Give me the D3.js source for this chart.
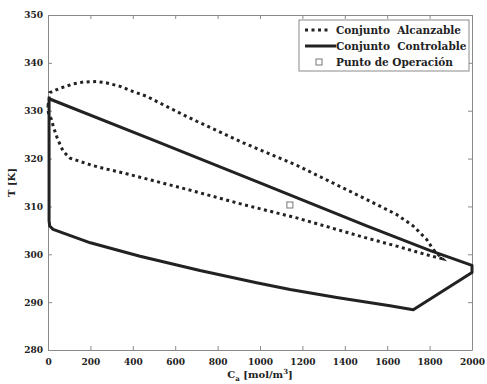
<!DOCTYPE html>
<html>
<head>
<meta charset="utf-8">
<script src="https://cdn.jsdelivr.net/npm/d3@7"></script>
<style>
	body { margin: 0; background: #fff; }
	text { font-family: "DejaVu Serif", serif; font-weight: bold; fill: #222; }
</style>
</head>
<body>
<div id="chart"></div>
<script>
// conjunto alcanzable (dotted, closed)
var alcanzableC = [0, 9, 57, 119, 167, 230, 277, 340, 402, 466, 528, 591, 654, 701, 921, 1173, 1330, 1487, 1645, 1723, 1786, 1817, 1860,
	1802, 1645, 1486, 1330, 1173, 920, 670, 591, 513, 434, 355, 277, 214, 151, 104, 72, 57, 41, 25, 17, 2, 0];
var alcanzableT = [331, 333.8, 334.7, 335.6, 336.0, 336.1, 335.8, 335.1, 334.0, 333.0, 331.6, 330.2, 328.8, 327.8, 323.3, 318.6, 315.2, 311.8, 308.3, 305.9, 303.1, 301.0, 299.1,
	299.7, 301.7, 303.6, 305.6, 307.6, 310.4, 313.4, 314.3, 315.2, 316.1, 317.0, 317.8, 318.5, 319.4, 320.1, 321.5, 322.9, 324.6, 326.7, 328.1, 329.5, 331];

// conjunto controlable (solid, closed)
var controlableC = [5, 500, 1000, 1500, 1800, 2000, 2000, 1723, 1613, 1362, 1142, 984, 717, 434, 200, 24, 8, 5, 5];
var controlableT = [332.5, 323.8, 314.9, 306.0, 300.8, 297.7, 296.2, 288.4, 289.25, 290.95, 292.65, 294.05, 296.6, 299.6, 302.4, 305.2, 305.9, 307, 332.5];

// punto de operacion
var operacionC = [1141];
var operacionT = [310.3];

var xTicks = [0, 200, 400, 600, 800, 1000, 1200, 1400, 1600, 1800, 2000];
var yTicks = [280, 290, 300, 310, 320, 330, 340, 350];
var legendLabels = ["Conjunto  Alcanzable", "Conjunto  Controlable", "Punto de Operación"];

var width = 487, height = 384,
	margin = {top: 15, right: 15, bottom: 34, left: 48},
	frameColor = "#8a8a8a",
	lineColor = "#222";

var svg = d3.select("#chart").append("svg")
	.attr("width", width)
	.attr("height", height);

var x = d3.scaleLinear().domain([0, 2000]).range([margin.left, width - margin.right]);
var y = d3.scaleLinear().domain([280, 350]).range([height - margin.bottom, margin.top]);

// frame with inward ticks on all four sides
function frameAxis(axis, transform) {
	var g = svg.append("g").attr("transform", transform).call(axis);
	g.select(".domain").attr("stroke", frameColor);
	g.selectAll(".tick line").attr("stroke", frameColor);
	g.selectAll(".tick text")
		.attr("font-size", 9)
		.attr("fill", "#222");
	return g;
}

var xb = frameAxis(d3.axisBottom(x).tickValues(xTicks).tickFormat(d3.format("d"))
	.tickSize(-4).tickPadding(6).tickSizeOuter(0),
	"translate(0," + y(280) + ")");
xb.selectAll(".tick text").attr("dy", "0.95em");
frameAxis(d3.axisTop(x).tickValues(xTicks).tickSize(-4).tickFormat("").tickSizeOuter(0),
	"translate(0," + y(350) + ")");
frameAxis(d3.axisLeft(y).tickValues(yTicks).tickFormat(d3.format("d"))
	.tickSize(-4).tickPadding(5).tickSizeOuter(0),
	"translate(" + x(0) + ",0)");
frameAxis(d3.axisRight(y).tickValues(yTicks).tickSize(-4).tickFormat("").tickSizeOuter(0),
	"translate(" + x(2000) + ",0)");

var line = d3.line()
	.x(function(d) { return x(d[0]); })
	.y(function(d) { return y(d[1]); });

svg.append("path")
	.datum(d3.zip(controlableC, controlableT))
	.attr("d", line)
	.attr("fill", "none")
	.attr("stroke", lineColor)
	.attr("stroke-width", 3)
	.attr("stroke-linejoin", "round");

svg.append("path")
	.datum(d3.zip(alcanzableC, alcanzableT))
	.attr("d", line)
	.attr("fill", "none")
	.attr("stroke", lineColor)
	.attr("stroke-width", 3)
	.attr("stroke-dasharray", "3,3.5");

svg.selectAll("rect.op")
	.data(d3.zip(operacionC, operacionT))
	.enter().append("rect")
	.attr("class", "op")
	.attr("x", function(d) { return x(d[0]) - 3; })
	.attr("y", function(d) { return y(d[1]) - 3; })
	.attr("width", 6)
	.attr("height", 6)
	.attr("fill", "#fff")
	.attr("stroke", "#777")
	.attr("stroke-width", 1);

// axis labels
svg.append("text")
	.attr("transform", "translate(15," + ((y(280) + y(350)) / 2) + ") rotate(-90)")
	.attr("text-anchor", "middle")
	.attr("font-size", 10)
	.text("T [K]");

var xl = svg.append("text")
	.attr("x", (x(0) + x(2000)) / 2)
	.attr("y", 378)
	.attr("text-anchor", "middle")
	.attr("font-size", 10);
xl.append("tspan").text("C");
xl.append("tspan").attr("font-size", 7).attr("dy", 3).text("a");
xl.append("tspan").attr("dy", -3).text(" [mol/m");
xl.append("tspan").attr("font-size", 7).attr("dy", -4).text("3");
xl.append("tspan").attr("dy", 4).text("]");

// legend
var lg = svg.append("g").attr("transform", "translate(299,20)");
lg.append("rect")
	.attr("width", 170)
	.attr("height", 51)
	.attr("fill", "#fff")
	.attr("stroke", frameColor);

var rows = lg.selectAll("g.row")
	.data(legendLabels)
	.enter().append("g")
	.attr("class", "row")
	.attr("transform", function(d, i) { return "translate(0," + (10 + i * 16) + ")"; });

rows.append("text")
	.attr("x", 37)
	.attr("dy", "0.35em")
	.attr("font-size", 10.5)
	.attr("xml:space", "preserve")
	.text(function(d) { return d; });

rows.filter(function(d, i) { return i === 0; }).append("line")
	.attr("x1", 6).attr("x2", 30)
	.attr("stroke", lineColor).attr("stroke-width", 3)
	.attr("stroke-dasharray", "3,3.5");
rows.filter(function(d, i) { return i === 1; }).append("line")
	.attr("x1", 6).attr("x2", 37)
	.attr("stroke", lineColor).attr("stroke-width", 3);
rows.filter(function(d, i) { return i === 2; }).append("rect")
	.attr("x", 17).attr("y", -3).attr("width", 6).attr("height", 6)
	.attr("fill", "#fff").attr("stroke", "#777");
</script>
</body>
</html>
